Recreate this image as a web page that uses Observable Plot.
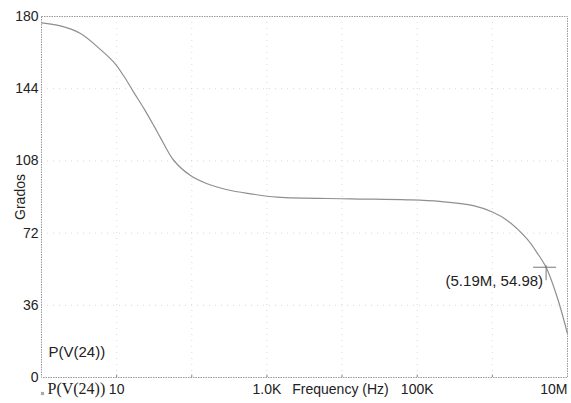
<!DOCTYPE html>
<html>
<head>
<meta charset="utf-8">
<script src="https://cdn.jsdelivr.net/npm/d3@7"></script>
<script src="https://cdn.jsdelivr.net/npm/@observablehq/plot@0.6"></script>
<style>
  html, body { margin: 0; padding: 0; background: #fff; }
  svg { display: block; }
</style>
</head>
<body>
<div id="chart"></div>
<script>
// Data (frequency in Hz, phase in degrees)
const freq  = [1, 1.79, 3.3, 6.1, 9.16, 12.5, 16.9, 23, 31.2, 38.4, 57.7, 96.2, 160, 296, 604, 1370, 12900, 73600, 200000, 560000, 1.0e6, 1.58e6, 2.89e6, 4.0e6, 5.19e6, 7.3e6, 1.0e7];
const phase = [176.8, 175.3, 171.5, 163.5, 157.2, 150.2, 142.2, 134.2, 125.6, 119.5, 108.2, 100.7, 96.6, 93.6, 91.6, 89.9, 89.1, 88.6, 87.8, 85.7, 82.5, 78.3, 69.1, 61.8, 54.98, 40, 21.8];

const xTicks = [10, 1000, 100000, 10000000];
const xTickLabels = ["10", "1.0K", "100K", "10M"];
const xMinorTicks = [10, 100, 1000, 10000, 100000, 1000000];
const yTicks = [0, 36, 72, 108, 144, 180];

const cursorF = [5.19e6];
const cursorP = [54.98];
const cursorLabel = ["(5.19M, 54.98)"];

const traceName = "P(V(24))";
const xTitle = "Frequency (Hz)";
const yTitle = "Grados";

const series = freq.map((f, i) => ({f, p: phase[i]}));
const cursor = cursorF.map((f, i) => ({f, p: cursorP[i], label: cursorLabel[i]}));

const crossSymbol = {
  draw(ctx) {
    ctx.moveTo(-13, 0); ctx.lineTo(10, 0);
    ctx.moveTo(0, -2); ctx.lineTo(0, 13);
  }
};

const sans = "'Liberation Sans', Arial, sans-serif";
const serif = "'Liberation Serif', 'Times New Roman', serif";

const chart = Plot.plot({
  width: 571,
  height: 403,
  marginLeft: 41,
  marginRight: 4,
  marginTop: 16,
  marginBottom: 26,
  style: {fontFamily: sans, background: "#fff", overflow: "visible"},
  x: {type: "log", domain: [1, 1e7], axis: null},
  y: {type: "linear", domain: [0, 180], axis: null},
  marks: [
    // faint dotted grid
    Plot.ruleY(yTicks.slice(1, -1), {stroke: "#d8d8d8", strokeDasharray: "1,5", strokeWidth: 1}),
    Plot.ruleX(xMinorTicks, {stroke: "#d8d8d8", strokeDasharray: "1,5", strokeWidth: 1}),
    // dotted frame
    Plot.frame({stroke: "#9a9a9a", strokeDasharray: "1.5,1", strokeWidth: 1}),
    // small ticks on the bottom edge
    Plot.ruleX(xMinorTicks, {x: d => d, y1: 0, y2: 1.2, stroke: "#888"}),
    // y tick labels
    Plot.text(yTicks, {y: d => d, frameAnchor: "left", dx: -3, textAnchor: "end", text: d => String(d), fontSize: 14, fill: "#222"}),
    // x tick labels
    Plot.text(xTicks.slice(0, -1), {x: d => d, frameAnchor: "bottom", dy: 16, text: (d, i) => xTickLabels[i], fontSize: 14, fill: "#222"}),
    Plot.text(xTicks.slice(-1), {x: d => d, frameAnchor: "bottom", dy: 16, text: () => xTickLabels[xTickLabels.length - 1], textAnchor: "end", fontSize: 14, fill: "#222"}),
    Plot.text([xTitle], {frameAnchor: "bottom", dx: 36, dy: 16, text: d => d, fontSize: 14, fill: "#222"}),
    Plot.text([yTitle], {frameAnchor: "left", dx: -21, dy: 0, rotate: -90, textAnchor: "middle", text: d => d, fontSize: 14, fill: "#222"}),
    // legend below the frame
    Plot.dot([traceName], {frameAnchor: "bottom-left", dx: 1, dy: 16, symbol: "square", r: 1.8, fill: "#aaa", stroke: "none"}),
    Plot.text([traceName], {frameAnchor: "bottom-left", dx: 6, dy: 16, textAnchor: "start", text: d => d, fontFamily: serif, fontSize: 16, fill: "#222"}),
    // trace name inside the plot
    Plot.text([traceName], {frameAnchor: "bottom-left", dx: 7, dy: -21, textAnchor: "start", text: d => d, fontSize: 15, fill: "#222"}),
    // phase curve
    Plot.line(series, {x: "f", y: "p", stroke: "#8f8f8f", strokeWidth: 1.2, curve: "catmull-rom"}),
    // cursor
    Plot.dot(cursor, {x: "f", y: "p", symbol: crossSymbol, r: 1, stroke: "#777", strokeWidth: 1, fill: "none"}),
    Plot.text(cursor, {x: "f", y: "p", text: "label", textAnchor: "end", dx: -3, dy: 14, fontSize: 15, fill: "#222"})
  ]
});

document.getElementById("chart").appendChild(chart);
</script>
</body>
</html>
